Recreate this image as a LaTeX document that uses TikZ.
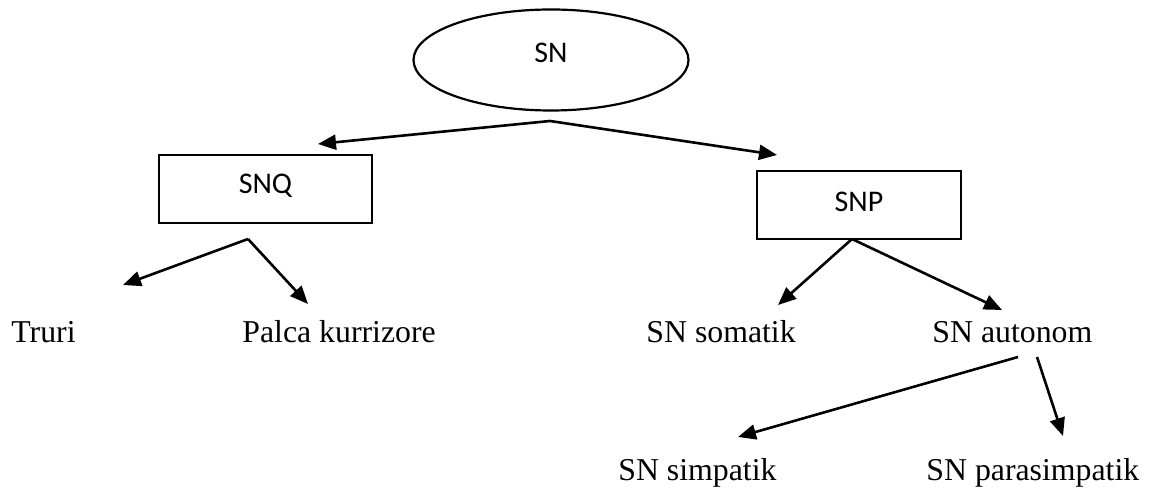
\documentclass[tikz,border=0pt]{standalone}
\usepackage{fontspec}
\setmainfont{Liberation Serif}
\newfontfamily\boxfont{Carlito}
\usetikzlibrary{shapes.geometric,arrows.meta}
\begin{document}
\begin{tikzpicture}[x=0.5pt,y=-0.5pt]
        \tikzset{
          shapebox/.style={draw,line width=1.1pt,inner sep=0mm,font=\boxfont\fontsize{15}{18}\selectfont},
          leaf/.style={inner sep=0mm,anchor=base west,font=\fontsize{15.9}{19}\selectfont},
          link/.style={line width=1.3pt,-{Triangle[length=9pt,width=7.5pt]}}
        }
        \useasboundingbox (0,0) rectangle (1172,490);
        %ROOT
        \node[shapebox,ellipse,minimum width=137.5pt,minimum height=50.5pt,text depth=7pt] (sn) at (551,60) {SN};
        %BOXES
        \node[shapebox,rectangle,minimum width=106.5pt,minimum height=34pt,text depth=5pt] (snq) at (265.5,189) {SNQ};
        \node[shapebox,rectangle,minimum width=102pt,minimum height=34pt,text depth=3pt] (snp) at (859,205) {SNP};
        %LEAVES
        \foreach \name/\x/\y/\txt in {truri/11/343/Truri, palca/242/343/Palca kurrizore,
            somatik/646/343/SN somatik, autonom/932/343/SN autonom,
            simpatik/618/481/SN simpatik, parasimpatik/926/481/SN parasimpatik}{
            \node[leaf] (\name) at (\x,\y) {\txt};
        }
        %ARROW ENDS
        \coordinate (sn-out) at (550,121);
        \coordinate (snq-in) at (318,144);
        \coordinate (snp-in) at (777,155);
        \coordinate (snq-out) at (248,239);
        \coordinate (truri-in) at (123,285);
        \coordinate (palca-in) at (308,304);
        \coordinate (snp-out) at (852,239);
        \coordinate (somatik-in) at (778,305);
        \coordinate (autonom-in) at (1002,310);
        \coordinate (autonom-outa) at (1018,357);
        \coordinate (autonom-outb) at (1037,357);
        \coordinate (simpatik-in) at (738,437);
        \coordinate (parasimpatik-in) at (1063,436);
        %ARROWS
        \foreach \a/\b in {sn-out/snq-in,sn-out/snp-in,snq-out/truri-in,snq-out/palca-in,
            snp-out/somatik-in,snp-out/autonom-in,autonom-outa/simpatik-in,autonom-outb/parasimpatik-in}{
            \draw[link] (\a) -- (\b);
        }
\end{tikzpicture}
\end{document}
